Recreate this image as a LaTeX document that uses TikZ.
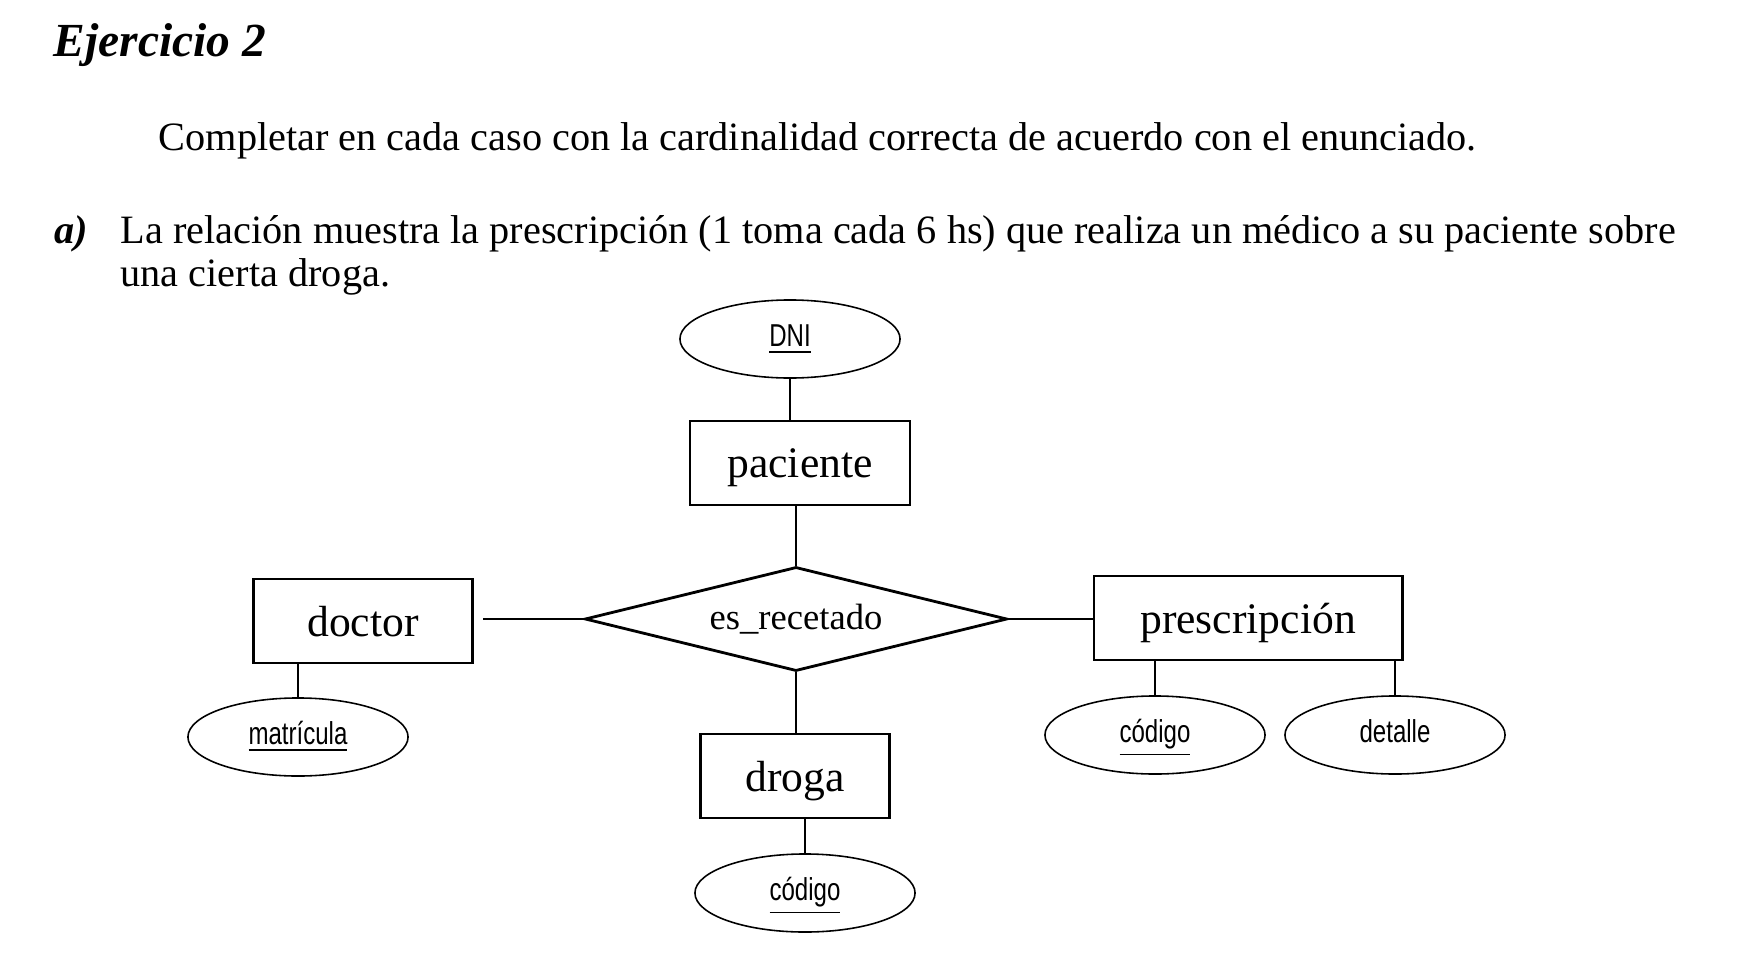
\documentclass[tikz,border=0pt]{standalone}
\usepackage{fontspec}
\setmainfont{Liberation Serif}
\newfontfamily\attrfont[FakeStretch=0.76]{Liberation Sans}
\usetikzlibrary{shapes.geometric}
\begin{document}
\begin{tikzpicture}[x=0.01cm,y=-0.01cm,
		texto/.style={anchor=base west,inner sep=0pt,font=\fontsize{11.45}{13}\selectfont},
		entidad/.style={draw,line width=0.8pt,rectangle,minimum height=0.84cm,inner sep=0pt,text depth=0pt,font=\fontsize{12.4}{14}\selectfont},
		atrib/.style={draw,ellipse,line width=0.45pt,minimum width=2.2cm,minimum height=0.78cm,inner sep=0pt,text height=4.5pt,text depth=0pt,font=\attrfont\fontsize{9}{10}\selectfont},
		relacion/.style={draw,diamond,aspect=4.06,line width=0.8pt,minimum width=4.22cm,minimum height=1.04cm,inner sep=0pt,font=\fontsize{10.4}{12}\selectfont},
		fino/.style={line width=0.35pt},
		grueso/.style={line width=0.7pt}]
		\useasboundingbox(0,0)rectangle(1758,973);
		\node[texto,font=\fontsize{13.5}{15}\selectfont\bfseries\itshape] (titulo) at(53,57){Ejercicio 2};
		\node[texto] (consigna) at(158,151){Completar en cada caso con la cardinalidad correcta de acuerdo con el enunciado.};
		\node[texto,font=\fontsize{11.45}{13}\selectfont\bfseries\itshape] (item) at(54,243){a)};
		\node[texto] (linea1) at(120,243){La relación muestra la prescripción (1 toma cada 6 hs) que realiza un médico a su paciente sobre};
		\node[texto] (linea2) at(120,286){una cierta droga.};
		% entidades
		\node[entidad,minimum width=2.2cm] (pac) at(800,463){paciente};
		\node[entidad,minimum width=2.19cm] (doc) at(363,621){doctor};
		\node[entidad,minimum width=3.08cm] (presc) at(1248,618){prescripción};
		\node[entidad,minimum width=1.89cm] (dro) at(795,776){droga};
		\node[relacion] (rel) at(796,619){es\_recetado};
		% atributos
		\node[atrib] (dni) at(790,339){\underline{DNI}};
		\node[atrib] (mat) at(298,737){\underline{matrícula}};
		\node[atrib] (codd) at(805,893){\underline{código}};
		\node[atrib] (codp) at(1155,735){\underline{código}};
		\node[atrib] (det) at(1395,735){detalle};
		\draw[fino](dni)--(dni|-pac.north);
		\draw[fino](mat)--(mat|-doc.south);
		\draw[fino](codd)--(codd|-dro.south);
		\draw[fino](codp)--(codp|-presc.south);
		\draw[fino](det)--(det|-presc.south);
		% relacion
		\draw[grueso](rel.north)--(rel.north|-pac.south);
		\draw[grueso](rel.south)--(rel.south|-dro.north);
		\draw[grueso,shorten >=0.09cm](rel.west)--(rel.west-|doc.east);
		\draw[grueso](rel.east)--(rel.east-|presc.west);
	\end{tikzpicture}
\end{document}
